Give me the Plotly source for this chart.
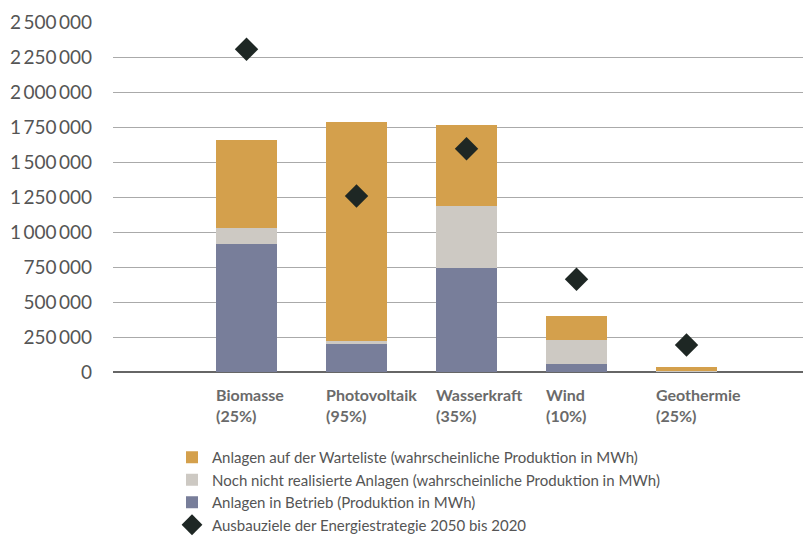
import plotly.graph_objects as go

categories = ["Biomasse", "Photovoltaik", "Wasserkraft", "Wind", "Geothermie"]
shares = ["(25%)", "(95%)", "(35%)", "(10%)", "(25%)"]
in_betrieb = [912000, 200000, 745000, 59000, 3000]
noch_nicht = [119000, 21000, 441000, 172000, 5000]
warteliste = [626000, 1562000, 581000, 167000, 30000]
ziele = [2305000, 1257000, 1595000, 662000, 193000]
tick_vals = [0, 250000, 500000, 750000, 1000000, 1250000, 1500000, 1750000, 2000000, 2250000, 2500000]
tick_text = ["0", "250\u2009000", "500\u2009000", "750\u2009000", "1\u2009000\u2009000", "1\u2009250\u2009000",
             "1\u2009500\u2009000", "1\u2009750\u2009000", "2\u2009000\u2009000", "2\u2009250\u2009000", "2\u2009500\u2009000"]

names = [
    "Anlagen auf der Warteliste (wahrscheinliche Produktion in MWh)",
    "Noch nicht realisierte Anlagen (wahrscheinliche Produktion in MWh)",
    "Anlagen in Betrieb (Produktion in MWh)",
    "Ausbauziele der Energiestrategie 2050 bis 2020",
]
c_orange = "#D4A04C"
c_gray = "#CDC9C3"
c_blue = "#787E9A"
c_diamond = "#1E2724"
FONT = "Lato"

fig = go.Figure()
fig.add_trace(go.Bar(x=categories, y=in_betrieb, name=names[2], marker=dict(color=c_blue, line_width=0), legendrank=3))
fig.add_trace(go.Bar(x=categories, y=noch_nicht, name=names[1], marker=dict(color=c_gray, line_width=0), legendrank=2))
fig.add_trace(go.Bar(x=categories, y=warteliste, name=names[0], marker=dict(color=c_orange, line_width=0), legendrank=1))
fig.add_trace(go.Scatter(x=categories, y=ziele, name=names[3], mode="markers",
                         marker=dict(symbol="diamond", size=18, color=c_diamond), legendrank=4))

for cat, s in zip(categories, shares):
    fig.add_annotation(x=cat, y=0, xref="x", yref="y", text=f"<b>{cat}</b><br><b>{s}</b>",
                       showarrow=False, xanchor="left", yanchor="top", align="left",
                       xshift=-33, yshift=-11, font=dict(family=FONT, size=16, color="#6A6A6A"))

fig.update_layout(
    width=803, height=538,
    margin=dict(l=113, r=0, t=22, b=166, autoexpand=False),
    barmode="stack", bargap=0.445,
    paper_bgcolor="white", plot_bgcolor="white",
    font=dict(family=FONT, color="#555555"),
    legend=dict(x=172 / 803, y=1 - 441 / 538, xref="container", yref="container", xanchor="left", yanchor="top",
                traceorder="normal", font=dict(family=FONT, size=15, color="#555555"), tracegroupgap=0,
                itemwidth=30, bgcolor="rgba(0,0,0,0)"),
    showlegend=True,
)
fig.update_xaxes(range=[-1.214, 5.059], showticklabels=False, showgrid=False, zeroline=False,
                 showline=False, ticks="")
fig.update_yaxes(range=[0, 2500000], tickvals=tick_vals, ticktext=tick_text, showgrid=True,
                 gridcolor="#AAAAAA", gridwidth=1, zeroline=True, zerolinecolor="#666666", zerolinewidth=1.5,
                 ticks="", ticklabelstandoff=20, tickfont=dict(family=FONT, size=19, color="#555555"))

fig.write_html("out.html")
